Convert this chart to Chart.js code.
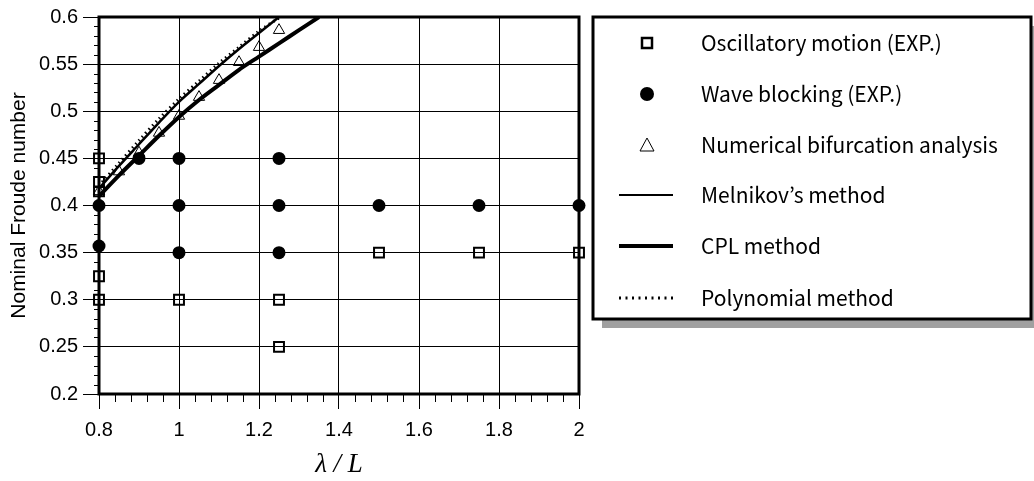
<!DOCTYPE html>
<html>
<head>
<meta charset="utf-8">
<script src="https://cdn.jsdelivr.net/npm/chart.js@4/dist/chart.umd.min.js"></script>
<style>
  html, body { margin: 0; padding: 0; background: #fff; }
  canvas { display: block; }
</style>
</head>
<body>
<canvas id="chart" width="1034" height="481"></canvas>
<script>
// Axis ticks
const xTickValues = [0.8, 1, 1.2, 1.4, 1.6, 1.8, 2];
const xTickLabels = ['0.8', '1', '1.2', '1.4', '1.6', '1.8', '2'];
const yTickValues = [0.2, 0.25, 0.3, 0.35, 0.4, 0.45, 0.5, 0.55, 0.6];
const yTickLabels = ['0.2', '0.25', '0.3', '0.35', '0.4', '0.45', '0.5', '0.55', '0.6'];

// Oscillatory motion (EXP.)
const oscX = [0.8, 0.8, 0.8, 0.8, 0.8, 1.0, 1.25, 1.25, 1.5, 1.75, 2.0];
const oscY = [0.45, 0.425, 0.415, 0.325, 0.3, 0.3, 0.3, 0.25, 0.35, 0.35, 0.35];

// Wave blocking (EXP.)
const waveX = [0.8, 0.8, 0.9, 1.0, 1.0, 1.0, 1.25, 1.25, 1.25, 1.5, 1.75, 2.0];
const waveY = [0.4, 0.357, 0.45, 0.45, 0.4, 0.35, 0.45, 0.4, 0.35, 0.4, 0.4, 0.4];

// Numerical bifurcation analysis
const numX = [0.8, 0.85, 0.9, 0.95, 1.0, 1.05, 1.1, 1.15, 1.2, 1.25];
const numY = [0.415, 0.436, 0.456, 0.477, 0.495, 0.515, 0.533, 0.552, 0.568, 0.586];

// Melnikov's method
const melX = [0.8, 0.85, 0.9, 0.95, 1.0, 1.05, 1.1, 1.15, 1.2, 1.25];
const melY = [0.418, 0.442, 0.465, 0.488, 0.51, 0.529, 0.548, 0.566, 0.583, 0.6];

// CPL method
const cplX = [0.8, 0.85, 0.9, 0.95, 1.0, 1.05, 1.1, 1.15, 1.2, 1.25, 1.3, 1.35];
const cplY = [0.41, 0.432, 0.453, 0.474, 0.494, 0.512, 0.528, 0.544, 0.558, 0.572, 0.586, 0.6];

// Polynomial method
const polyX = [0.8, 0.85, 0.9, 0.95, 1.0, 1.05, 1.1, 1.15, 1.2, 1.25, 1.3];
const polyY = [0.421, 0.445, 0.469, 0.492, 0.513, 0.532, 0.551, 0.568, 0.585, 0.599, 0.612];

const seriesLabels = [
  'Oscillatory motion (EXP.)',
  'Wave blocking (EXP.)',
  'Numerical bifurcation analysis',
  'Melnikov\u2019s method',
  'CPL method',
  'Polynomial method'
];

const pts = (xs, ys) => xs.map((x, i) => ({ x: x, y: ys[i] }));

Chart.defaults.font.family = '"Liberation Sans", Arial, sans-serif';
Chart.defaults.color = '#000';

// Thick frame around the plot area and the small minor ticks on both axes
const framePlugin = {
  id: 'frame',
  beforeDatasetsDraw(chart) {
    const { ctx, chartArea: a, scales: { x, y } } = chart;
    ctx.save();
    ctx.strokeStyle = '#000';
    ctx.lineWidth = 1;
    ctx.beginPath();
    for (let k = 1; k < 30; k++) {
      if (k % 5 === 0) continue;
      const px = Math.round(x.getPixelForValue(0.8 + k * 0.04)) + 0.5;
      ctx.moveTo(px, a.bottom);
      ctx.lineTo(px, a.bottom + 8);
    }
    for (let k = 1; k < 40; k++) {
      if (k % 5 === 0) continue;
      const py = Math.round(y.getPixelForValue(0.2 + k * 0.01)) + 0.5;
      ctx.moveTo(a.left - 5, py);
      ctx.lineTo(a.left, py);
    }
    ctx.stroke();
    ctx.lineWidth = 3;
    ctx.strokeRect(a.left, a.top, a.right - a.left, a.bottom - a.top);
    ctx.restore();
  }
};

// Boxed key with a drop shadow, to the right of the plot
const keyPlugin = {
  id: 'key',
  afterDraw(chart) {
    const ctx = chart.ctx;
    const bx = 593, by = 17, bw = 438, bh = 302;
    ctx.save();
    ctx.fillStyle = '#a0a0a0';
    ctx.fillRect(bx + 9, by + 9, bw, bh);
    ctx.fillStyle = '#fff';
    ctx.fillRect(bx, by, bw, bh);
    ctx.strokeStyle = '#000';
    ctx.lineWidth = 3;
    ctx.strokeRect(bx, by, bw, bh);

    const rows = [43, 94, 145, 195, 246, 298];
    const sx = 647, tx = 701;
    ctx.font = '21px "Noto Sans CJK JP", "Liberation Sans", sans-serif';
    ctx.fillStyle = '#000';
    ctx.textBaseline = 'middle';
    ctx.textAlign = 'left';
    seriesLabels.forEach((t, i) => ctx.fillText(t, tx, rows[i]));

    // square
    ctx.lineWidth = 2.5;
    ctx.strokeRect(sx - 5, rows[0] - 5, 10, 10);
    // circle
    ctx.beginPath();
    ctx.arc(sx, rows[1], 7, 0, Math.PI * 2);
    ctx.fill();
    // triangle
    ctx.lineWidth = 1;
    ctx.beginPath();
    ctx.moveTo(sx, rows[2] - 7);
    ctx.lineTo(sx + 7, rows[2] + 6);
    ctx.lineTo(sx - 7, rows[2] + 6);
    ctx.closePath();
    ctx.stroke();
    // line samples
    const l0 = 619, l1 = 673;
    ctx.beginPath(); ctx.lineWidth = 2; ctx.moveTo(l0, rows[3]); ctx.lineTo(l1, rows[3]); ctx.stroke();
    ctx.beginPath(); ctx.lineWidth = 4; ctx.moveTo(l0, rows[4]); ctx.lineTo(l1, rows[4]); ctx.stroke();
    ctx.beginPath(); ctx.lineWidth = 3; ctx.setLineDash([2, 4.5]); ctx.moveTo(l0, rows[5]); ctx.lineTo(l1, rows[5]); ctx.stroke();
    ctx.restore();
  }
};

new Chart(document.getElementById('chart'), {
  type: 'scatter',
  data: {
    datasets: [
      {
        label: seriesLabels[0], data: pts(oscX, oscY),
        pointStyle: 'rect', pointRadius: 7, pointBorderWidth: 2,
        borderColor: '#000', backgroundColor: 'rgba(0,0,0,0)', clip: false
      },
      {
        label: seriesLabels[1], data: pts(waveX, waveY),
        pointStyle: 'circle', pointRadius: 6.5, pointBorderWidth: 0,
        borderColor: '#000', backgroundColor: '#000', clip: false
      },
      {
        label: seriesLabels[2], data: pts(numX, numY),
        pointStyle: 'triangle', pointRadius: 6.5, pointBorderWidth: 1,
        borderColor: '#000', backgroundColor: 'rgba(0,0,0,0)', clip: false
      },
      {
        label: seriesLabels[3], data: pts(melX, melY), showLine: true,
        borderColor: '#000', borderWidth: 2.5, pointRadius: 0, tension: 0.3
      },
      {
        label: seriesLabels[4], data: pts(cplX, cplY), showLine: true,
        borderColor: '#000', borderWidth: 4, pointRadius: 0, tension: 0.3
      },
      {
        label: seriesLabels[5], data: pts(polyX, polyY), showLine: true,
        borderColor: '#000', borderWidth: 3, borderDash: [1.5, 3.5], pointRadius: 0, tension: 0.3
      }
    ]
  },
  options: {
    responsive: false,
    animation: false,
    devicePixelRatio: 1,
    layout: { padding: { left: 0, top: 16, right: 455, bottom: 0 } },
    plugins: { legend: { display: false }, tooltip: { enabled: false } },
    scales: {
      x: {
        type: 'linear', min: 0.8, max: 2,
        afterFit(s) { s.height = 87; },
        afterBuildTicks(s) { s.ticks = xTickValues.map(v => ({ value: v })); },
        ticks: {
          font: { size: 20 }, padding: 9, maxRotation: 0, color: '#000',
          callback: (v) => xTickLabels[xTickValues.findIndex(t => Math.abs(t - v) < 1e-6)]
        },
        grid: { color: '#000', lineWidth: 1, tickLength: 15, drawTicks: true },
        border: { display: false },
        title: {
          display: true, text: '\u03bb / L', color: '#000',
          font: { family: '"Liberation Serif", "Times New Roman", serif', size: 27, style: 'italic' },
          padding: { top: 0, bottom: 0 }
        }
      },
      y: {
        type: 'linear', min: 0.2, max: 0.6,
        afterFit(s) { s.width = 99; },
        afterBuildTicks(s) { s.ticks = yTickValues.map(v => ({ value: v })); },
        ticks: {
          font: { size: 20 }, padding: 5, color: '#000',
          callback: (v) => yTickLabels[yTickValues.findIndex(t => Math.abs(t - v) < 1e-6)]
        },
        grid: { color: '#000', lineWidth: 1, tickLength: 16, drawTicks: true },
        border: { display: false },
        title: {
          display: true, text: 'Nominal Froude number', color: '#000',
          font: { size: 21 }, padding: { top: 7, bottom: 0 }
        }
      }
    }
  },
  plugins: [framePlugin, keyPlugin]
});
</script>
</body>
</html>
